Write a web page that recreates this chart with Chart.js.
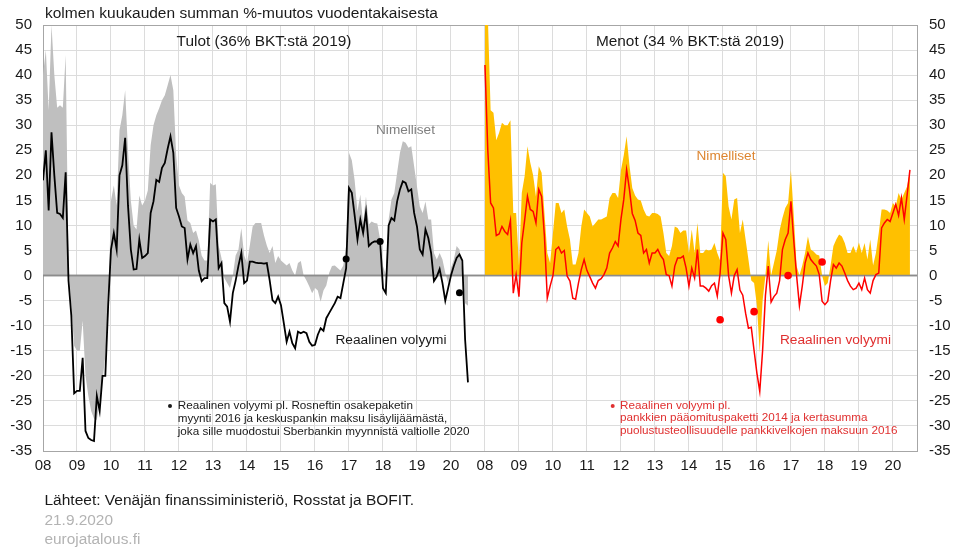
<!DOCTYPE html>
<html><head><meta charset="utf-8">
<script src="https://cdn.jsdelivr.net/npm/chart.js@4.4.1/dist/chart.umd.min.js"></script>
<style>html,body{margin:0;padding:0;background:#fff;}canvas{display:block;}</style>
</head><body>
<canvas id="c" width="953" height="550"></canvas>
<script>
// Year tick labels (each panel Jan 2008 ... 2020)
const yearLabels = ['08','09','10','11','12','13','14','15','16','17','18','19','20'];
const monthsPerPanel = 156; // 13 years of months per panel on the shared axis

// Tulot (revenues), monthly from Jan 2008 to Jul 2020
const tulotNimelliset = [
 40,45,33,50,40,33.5,34,33.5,44,2,-6,-14,
 -15,-15,-9,-20,-24,-27,-28.5,-28.8,-25,-21,-16,-8,
 15,18,14,29,32,37,25,15,10,9.2,16,14,
 15,17,26,30,32,33.4,35,36,38,40,37,24,
 18,16.5,15.8,11,10.5,8.5,9,7,4,3,3,18.5,
 18,18.2,6,3.5,-0.5,-1.5,-2.5,0,4,5.2,9.5,4,
 2.5,6,9.8,10.5,10.5,10.5,8,6,4.5,5.9,2.5,3.9,
 3,2.5,2,2.5,1,0,2.5,2.9,0,-1,-2.2,-3.5,
 -2.5,-3,-5.2,-3,-2,0.5,1.9,2,1.5,1,2,6,
 24.5,23,19,12.8,16.2,10.5,15.8,10.2,10.8,10.5,10.4,7.2,
 1.9,0.2,11.2,15.2,16.5,20.5,24.5,26.8,26.5,25.5,25.8,21.8,
 17.8,13.8,12.5,14.8,11.2,11.2,4.5,3.2,4.5,3.2,0.5,-1.5,
 1.5,3.2,5.9,5.2,1,-5.5,-6
];
const tulotReaalinen = [
 19,25,13,28.6,20,12.5,12.3,11.5,20.6,-1,-8,-23.5,
 -23,-23,-16.4,-31,-32.4,-32.8,-33,-24,-27,-20,-20,-6,
 5.2,8.5,5.2,20,22,27.5,14,5.2,1.2,1.3,7.2,3.5,
 3.9,4.5,12.5,14.8,19.1,18.7,21.5,22.5,25.3,27.8,24.5,13.5,
 11.8,9.8,9.5,3.2,6.2,4.5,5.9,1,-1.1,-0.5,-0.5,11.2,
 10.8,11.2,1.5,2.5,-5.5,-6.2,-9.2,-3.5,-1,2,4.5,-1.5,
 -1,2.8,2.8,2.6,2.5,2.5,2.4,2.5,-0.9,-4.9,-5.5,-4.2,
 -5.9,-9.5,-13.2,-11.2,-13.5,-14.5,-11.2,-11.5,-11.2,-11.5,-13.2,-14,
 -13.8,-11.8,-10.5,-11,-8.5,-7.5,-6.5,-5.5,-4.2,-4.5,-1.5,1.5,
 17.5,16.5,12,7.2,11.2,8.5,12.6,5.9,6.5,6.8,6.8,6.8,
 -2.5,-3.5,10,11.5,11,14.8,17.2,18.8,18.5,16.8,17.2,12.5,
 9.8,5.2,4.2,9.2,7.5,4.5,-1.1,-0.2,1.3,-1.5,-5,-2.5,
 0,1.9,3.5,4.2,3,-12.8,-21.3
];
const tulotPisteKk = [107,119,147];
const tulotPisteArvo = [3.3,6.8,-3.4];

// Menot (expenditures), monthly from Jan 2008 to Jul 2020
const menotNimelliset = [
 70,52,33,32.5,27,28.5,30.5,30,30,31,12.5,12.5,
 2,16.5,19.8,25.8,22.5,20,15.8,21.8,20.5,12.5,4.5,2.5,
 8.5,14.5,14.5,12.5,13.2,9.8,7.2,2.2,2.2,4.5,9.8,13.2,
 12.5,11.8,9.8,10.5,11.2,11.2,11.5,11.8,15.5,16.5,16.5,15.5,
 21,24,27.8,22,17.5,16,15.2,15,13.2,12,11.8,12.5,
 12.5,12.3,11.8,8.5,4.5,3.9,5.9,9.8,9.5,8.5,9,9,
 4.5,9.2,4.5,10.5,4.5,4.5,5.2,5,5.2,6.5,4.5,3,
 20.5,19.8,13.8,11.2,15.2,15.5,8.5,11.2,7.2,3.2,-1,-1.5,
 -6,-15.4,-5,0,7,0,2.5,5,9,11.5,13.5,14.5,
 21,12,1.9,0,2,4.5,7.8,5.2,4.8,4.2,4,0,
 -2.1,-1.5,2,5.9,7.2,8.2,7.8,6.5,4.5,4.5,5.9,4.5,
 6.6,4.5,6.5,3.2,7.2,2,4.5,8.5,13.2,13.2,13,12.5,
 14.5,13.8,16.5,15.2,16.5,17.8,20.8
];
const menotReaalinen = [
 42,25,14.5,13.5,8,8.3,9.8,8.8,8.2,11,-3.5,0.2,
 -4.2,6.5,11,15.8,13.2,12.8,10.5,17.2,15.8,7.8,-4.5,-2.1,
 0,5.2,5.7,4.5,5,-0.1,-1.1,-4.5,-4.7,-1.5,1.2,3.2,
 1,-0.2,-1.5,-2.5,-1,-0.6,0.2,1.5,4.5,5.5,6.8,5.9,
 11.2,15.2,21.1,17.2,12.4,11,8.5,8,4.5,5.2,2.5,4.5,
 4.5,5.2,4,3.2,0.2,0,-2.1,1.9,3.5,3.5,3.9,1.5,
 -2.1,1.5,-0.5,5.2,-2.1,-2.1,-2.5,-3.1,-2,-1.5,-4.1,0.5,
 8.5,7.2,0,-3.5,0,1.2,-2.9,-3.9,-7.5,-10.5,-10.3,-15,
 -19.5,-23.1,-15,-4,1.9,-5.3,-4.2,-3.5,-1,5.2,7.2,8.5,
 14.8,7,0,-6,-2.1,2.5,4.5,3.2,2.5,1.9,0.2,-5.1,
 -5.8,-5.1,-1,2.2,1.5,2.5,1.9,0.5,-1,-2.1,-2.8,-2.5,
 -1.5,-2.8,-0.5,-2.8,-3.5,-1,0.2,0.5,9.5,10.5,11.2,10.8,
 12.5,14.2,12,15.5,11.2,16,21.1
];
const menotPisteKk = [83,95,107,119];
const menotPisteArvo = [-8.8,-7.2,0,2.7];

const FONT = "'Liberation Sans', Arial, sans-serif";
const pts = (arr, off) => arr.map((v, i) => ({x: i + off, y: v}));
const dotPts = (kk, val, off) => kk.map((k, i) => ({x: k + off, y: val[i]}));
// Year tick positions for both panels on the shared month axis
const yearTicks = [0, monthsPerPanel].flatMap(off => yearLabels.map((_, k) => ({value: off + k * 12})));

const zeroLine = {
  id: 'zeroLine',
  afterDatasetDraw(chart, args) {
    const ds = chart.data.datasets[args.index];
    if (!ds.isFill) return;
    const {ctx, chartArea} = chart;
    const y = chart.scales.y.getPixelForValue(0);
    ctx.save();
    ctx.strokeStyle = '#8c8c8c';
    ctx.lineWidth = 1.5;
    ctx.beginPath();
    ctx.moveTo(chartArea.left, y);
    ctx.lineTo(chartArea.right, y);
    ctx.stroke();
    ctx.restore();
  }
};

const frame = {
  id: 'frame',
  beforeDatasetsDraw(chart) {
    const {ctx, chartArea} = chart;
    ctx.save();
    ctx.strokeStyle = '#a6a6a6';
    ctx.lineWidth = 1;
    ctx.strokeRect(Math.round(chartArea.left) + 0.5, Math.round(chartArea.top) + 0.5,
      Math.round(chartArea.right - chartArea.left), Math.round(chartArea.bottom - chartArea.top));
    ctx.restore();
  }
};

const texts = {
  id: 'texts',
  afterDraw(chart) {
    const ctx = chart.ctx;
    ctx.save();
    ctx.textBaseline = 'middle';
    const t = (s, x, y, size, color, align) => {
      ctx.font = size + 'px ' + FONT;
      ctx.fillStyle = color;
      ctx.textAlign = align || 'left';
      ctx.fillText(s, x, y);
    };
    const dot = (x, y, r, color) => {
      ctx.fillStyle = color; ctx.beginPath(); ctx.arc(x, y, r, 0, Math.PI * 2); ctx.fill();
    };
    t('kolmen kuukauden summan %-muutos vuodentakaisesta', 45, 14, 15.5, '#1a1a1a');
    t('Tulot (36% BKT:stä 2019)', 264, 42, 15.4, '#1a1a1a', 'center');
    t('Menot (34 % BKT:stä 2019)', 690, 42, 15.4, '#1a1a1a', 'center');
    t('Nimelliset', 405.5, 130, 13.6, '#7f7f7f', 'center');
    t('Nimelliset', 726, 156, 13.6, '#dd8530', 'center');
    t('Reaalinen volyymi', 391, 340, 13.7, '#1a1a1a', 'center');
    t('Reaalinen volyymi', 835.5, 340, 13.7, '#e03030', 'center');
    dot(170, 406, 2, '#1a1a1a');
    t('Reaalinen volyymi pl. Rosneftin osakepaketin', 177.7, 406, 11.7, '#1a1a1a');
    t('myynti 2016 ja keskuspankin maksu lisäylijäämästä,', 177.7, 418.5, 11.7, '#1a1a1a');
    t('joka sille muodostui Sberbankin myynnistä valtiolle 2020', 177.7, 431.5, 11.7, '#1a1a1a');
    dot(612.7, 406, 2, '#e03030');
    t('Reaalinen volyymi pl.', 620, 406, 11.7, '#e03030');
    t('pankkien pääomituspaketti 2014 ja kertasumma', 620, 418, 11.7, '#e03030');
    t('puolustusteollisuudelle pankkivelkojen maksuun 2016', 620, 431, 11.7, '#e03030');
    t('Lähteet: Venäjän finanssiministeriö, Rosstat ja BOFIT.', 44.5, 501, 15.5, '#1a1a1a');
    t('21.9.2020', 44.5, 521, 15.4, '#b3b3b3');
    t('eurojatalous.fi', 44.5, 540, 15.4, '#b3b3b3');
    ctx.restore();
  }
};

const tickFont = {family: FONT, size: 15};
const yTicks = {min: -35, max: 50};

new Chart(document.getElementById('c'), {
  type: 'line',
  data: {
    datasets: [
      {label: 'Tulot nimelliset', isFill: true, data: pts(tulotNimelliset, 0), order: 5,
       backgroundColor: '#bfbfbf', borderWidth: 0, pointRadius: 0, fill: 'origin', tension: 0},
      {label: 'Menot nimelliset', isFill: true, data: pts(menotNimelliset, monthsPerPanel), order: 4,
       backgroundColor: '#ffc000', borderWidth: 0, pointRadius: 0, fill: 'origin', tension: 0},
      {label: 'Tulot reaalinen', data: pts(tulotReaalinen, 0), order: 2,
       borderColor: '#000000', borderWidth: 1.8, pointRadius: 0, fill: false, tension: 0},
      {label: 'Menot reaalinen', data: pts(menotReaalinen, monthsPerPanel), order: 2,
       borderColor: '#ff0000', borderWidth: 1.5, pointRadius: 0, fill: false, tension: 0},
      {label: 'Tulot pl.', data: dotPts(tulotPisteKk, tulotPisteArvo, 0), order: 1, showLine: false,
       pointRadius: 3.5, pointBackgroundColor: '#000000', pointBorderWidth: 0},
      {label: 'Menot pl.', data: dotPts(menotPisteKk, menotPisteArvo, monthsPerPanel), order: 1, showLine: false,
       pointRadius: 3.8, pointBackgroundColor: '#ff0000', pointBorderWidth: 0}
    ]
  },
  options: {
    responsive: false,
    animation: false,
    devicePixelRatio: 1,
    clip: 0,
    layout: {padding: {top: 25, left: 0, right: 0, bottom: 69}},
    plugins: {legend: {display: false}, tooltip: {enabled: false}},
    scales: {
      x: {
        type: 'linear', min: 0, max: 308.5,
        afterBuildTicks: (s) => { s.ticks = yearTicks.map(tk => ({value: tk.value})); },
        afterFit: (s) => { s.height = 30; },
        ticks: {autoSkip: false, maxRotation: 0, padding: 6, font: tickFont, color: '#1a1a1a',
          callback: (v) => yearLabels[Math.round((v % monthsPerPanel) / 12)]},
        grid: {color: '#dcdcdc', drawTicks: false, lineWidth: 1},
        border: {display: false}
      },
      y: {
        position: 'left', min: yTicks.min, max: yTicks.max,
        afterFit: (s) => { s.width = 43; },
        ticks: {stepSize: 5, padding: 11, font: tickFont, color: '#1a1a1a'},
        grid: {color: '#dcdcdc', drawTicks: false, lineWidth: 1},
        border: {display: false}
      },
      y2: {
        position: 'right', min: yTicks.min, max: yTicks.max,
        afterFit: (s) => { s.width = 36; },
        ticks: {stepSize: 5, padding: 12, font: tickFont, color: '#1a1a1a'},
        grid: {display: false, drawTicks: false},
        border: {display: false}
      }
    }
  },
  plugins: [zeroLine, frame, texts]
});
</script>
</body></html>
